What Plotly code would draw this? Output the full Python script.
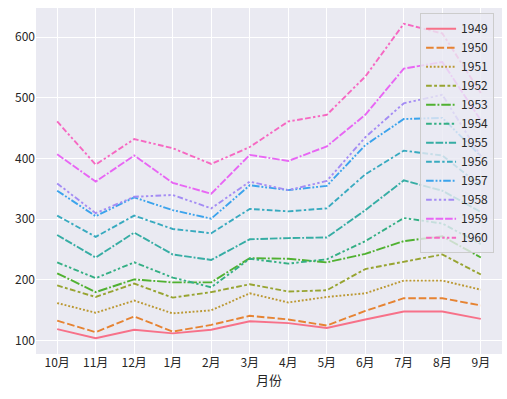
import math
import plotly.graph_objects as go

months = ["10月", "11月", "12月", "1月", "2月", "3月", "4月", "5月", "6月", "7月", "8月", "9月"]
years = ["1949", "1950", "1951", "1952", "1953", "1954", "1955", "1956", "1957", "1958", "1959", "1960"]

p1949 = [119, 104, 118, 112, 118, 132, 129, 121, 135, 148, 148, 136]
p1950 = [133, 114, 140, 115, 126, 141, 135, 125, 149, 170, 170, 158]
p1951 = [162, 146, 166, 145, 150, 178, 163, 172, 178, 199, 199, 184]
p1952 = [191, 172, 194, 171, 180, 193, 181, 183, 218, 230, 242, 209]
p1953 = [211, 180, 201, 196, 196, 236, 235, 229, 243, 264, 272, 237]
p1954 = [229, 203, 229, 204, 188, 235, 227, 234, 264, 302, 293, 259]
p1955 = [274, 237, 278, 242, 233, 267, 269, 270, 315, 364, 347, 312]
p1956 = [306, 271, 306, 284, 277, 317, 313, 318, 374, 413, 405, 355]
p1957 = [347, 305, 336, 315, 301, 356, 348, 355, 422, 465, 467, 404]
p1958 = [359, 310, 337, 340, 318, 362, 348, 363, 435, 491, 505, 404]
p1959 = [407, 362, 405, 360, 342, 406, 396, 420, 472, 548, 559, 463]
p1960 = [461, 390, 432, 417, 391, 419, 461, 472, 535, 622, 606, 508]
series = [p1949, p1950, p1951, p1952, p1953, p1954, p1955, p1956, p1957, p1958, p1959, p1960]

# ---- HUSL palette (as seaborn) ----
M = [[3.2406, -1.5372, -0.4986], [-0.9689, 1.8758, 0.0415], [0.0557, -0.2040, 1.0570]]
refU, refV, kappa, eps = 0.19784, 0.46834, 903.2963, 0.0088564


def max_chroma(L, H):
    hr = math.radians(H)
    sH, cH = math.sin(hr), math.cos(hr)
    sub1 = ((L + 16) ** 3) / 1560896.0
    sub2 = sub1 if sub1 > eps else L / kappa
    res = float("inf")
    for m1, m2, m3 in M:
        top = (0.99915 * m1 + 1.05122 * m2 + 1.14460 * m3) * sub2
        rb = 0.86330 * m3 - 0.17266 * m2
        lb = 0.12949 * m3 - 0.38848 * m1
        bottom = (rb * sH + lb * cH) * sub2
        for t in (0.0, 1.0):
            C = L * (top - 1.05122 * t) / (bottom + 0.17266 * sH * t)
            if 0 < C < res:
                res = C
    return res


def husl_to_rgb(H, S, L):
    C = max_chroma(L, H) / 100.0 * S
    hr = math.radians(H)
    U, V = math.cos(hr) * C, math.sin(hr) * C
    t = (L + 16) / 116.0
    Y = t ** 3 if t ** 3 > eps else (116 * t - 16) / kappa
    vU = U / (13 * L) + refU
    vV = V / (13 * L) + refV
    X = 0 - (9 * Y * vU) / ((vU - 4) * vV - vU * vV)
    Z = (9 * Y - 15 * vV * Y - vV * X) / (3 * vV)
    out = []
    for row in M:
        c = row[0] * X + row[1] * Y + row[2] * Z
        c = 12.92 * c if c <= 0.0031308 else 1.055 * c ** (1 / 2.4) - 0.055
        out.append(int(round(min(max(c, 0), 1) * 255)))
    return "rgb(%d,%d,%d)" % tuple(out)


n = len(years)
colors = []
for i in range(n):
    h = ((i / n) + 0.01) % 1 * 359
    colors.append(husl_to_rgb(h, 0.9 * 99, 0.65 * 99))

dash_units = [None, (4, 1.5), (1, 1), (3, 1.25, 1.5, 1.25), (5, 1, 1, 1),
              (3, 1.25, 1.25, 1.25, 1.25, 1.25), (4, 1, 4, 1, 1, 1),
              (3, 1.25, 3, 1.25, 1.25, 1.25), (4, 1, 1, 1, 1, 1),
              (3, 1.25, 1.25, 1.25, 1.25, 1.25, 1.25, 1.25),
              (4, 1, 4, 1, 4, 1, 1, 1),
              (3, 1.25, 3, 1.25, 1.25, 1.25, 1.25, 1.25)]
lw = 1.9
dashes = []
for d in dash_units:
    if d is None:
        dashes.append("solid")
    else:
        dashes.append(",".join("%.2fpx" % (u * lw) for u in d))

fig = go.Figure()
for yr, vals, col, ds in zip(years, series, colors, dashes):
    fig.add_trace(go.Scatter(x=months, y=vals, mode="lines", name=yr,
                             line=dict(color=col, width=lw, dash=ds)))

font_family = "Noto Sans CJK SC, DejaVu Sans, sans-serif"
fig.update_layout(
    width=507, height=399,
    margin=dict(l=36, r=5, t=8, b=45),
    paper_bgcolor="white", plot_bgcolor="#EAEAF2",
    font=dict(family=font_family, size=12, color="#262626"),
    legend=dict(x=0.983, y=0.985, xanchor="right", yanchor="top",
                bgcolor="rgba(234,234,242,0.8)", bordercolor="#cccccc", borderwidth=1,
                font=dict(size=12), tracegroupgap=0, itemwidth=30),
    xaxis=dict(type="category", categoryorder="array", categoryarray=months,
               range=[-0.55, 11.55], showgrid=True, gridcolor="white", gridwidth=1,
               zeroline=False, showline=False, ticks="", automargin=False,
               title=dict(text="月份", standoff=2, font=dict(size=13))),
    yaxis=dict(range=[78.1, 647.9], tickvals=[100, 200, 300, 400, 500, 600],
               showgrid=True, gridcolor="white", gridwidth=1, zeroline=False,
               showline=False, ticks="", automargin=False),
)
fig.write_html("out.html", config={"displayModeBar": False},
               post_script="document.body.style.margin='0';document.body.style.overflow='hidden';")
